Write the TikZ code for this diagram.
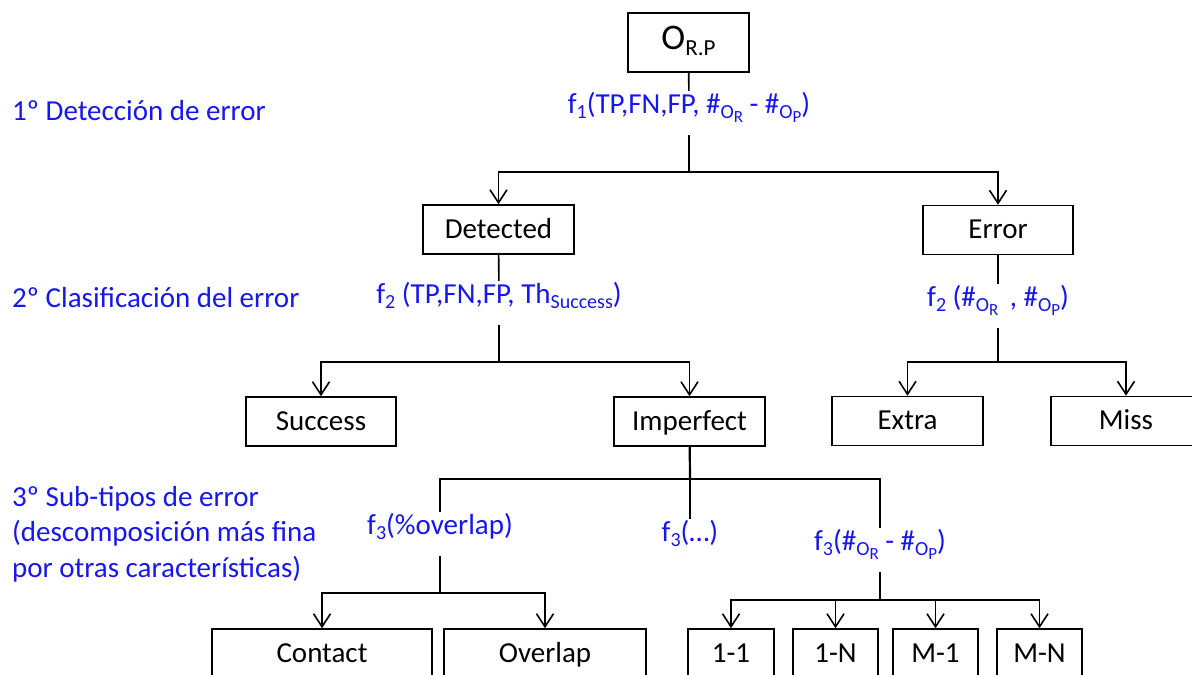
\documentclass[tikz,border=0pt]{standalone}
\usepackage{fontspec}
\setmainfont{Carlito}
\usepackage{tikz}
\usetikzlibrary{arrows.meta,positioning}
\usepackage{xcolor}
\definecolor{stageblue}{RGB}{22,22,238}
\newcommand{\bigtxt}{\fontsize{29}{35.5}\selectfont}
\newcommand{\hugetxt}{\fontsize{36}{40}\selectfont}
\newcommand{\lowtxt}[1]{\raisebox{-5pt}{\fontsize{20}{20}\selectfont #1}}
\newcommand{\lowertxt}[1]{\raisebox{-4pt}{\fontsize{17}{17}\selectfont #1}}

\tikzset{
  box/.style={draw, line width=1.6pt, inner sep=0pt, minimum width=150pt, minimum height=49pt,
    text height=19pt, text depth=2pt, font=\bigtxt},
  flabel/.style={text=stageblue, inner sep=0pt, text height=22pt, text depth=22pt, anchor=base, font=\bigtxt},
  stage/.style={text=stageblue, anchor=base west, align=left, inner sep=0pt, font=\bigtxt},
  link/.style={line width=1.6pt},
  stem/.style={line width=2.2pt},
  arr/.style={line width=1.6pt, -{Straight Barb[length=13pt,width=17pt,line width=1.6pt]}}
}

\begin{document}
\begin{tikzpicture}[x=1pt, y=-1pt]
  \useasboundingbox (0,0) rectangle (1192,675);
  \clip (0,0) rectangle (1192,675);

  % stages on the left
  \node[stage] (s1) at (12,120) {1º Detección de error};
  \node[stage] (s2) at (12,307) {2º Clasificación del error};
  \node[stage] (s3) at (12,577) {3º Sub-tipos de error\\(descomposición más fina\\por otras características)};

  % level 0
  \node[box, minimum width=121pt, minimum height=59pt, text height=24pt, text depth=11pt, font=\hugetxt] (orp) at (688.5,42.5) {O\raisebox{-6pt}{\fontsize{23}{23}\selectfont R.P}};
  \node[flabel] (f1) at (689,113) {f\lowtxt{1}(TP,FN,FP, \#\lowtxt{O\lowertxt{R}} - \#\lowtxt{O\lowertxt{P}})};
  \coordinate (j1) at (689,172);

  % level 1
  \node[box, minimum width=151pt] (det) at (498.5,229.5) {Detected};
  \node[box] (err) at (998,230) {Error};
  \node[flabel] (f2a) at (499,303) {f\lowtxt{2} (TP,FN,FP, Th\lowtxt{Success})};
  \node[flabel] (f2b) at (998,306) {f\lowtxt{2} (\#\lowtxt{O\lowertxt{R}}\, , \#\lowtxt{O\lowertxt{P}})};
  \coordinate (j2) at (499,362);
  \coordinate (j3) at (998,362);

  % level 2
  \node[box] (succ) at (321,421.5) {Success};
  \node[box, minimum width=151pt] (imp) at (689.5,421.5) {Imperfect};
  \node[box, minimum width=151pt] (extra) at (907.5,421) {Extra};
  \node[box] (miss) at (1126,421) {Miss};
  \coordinate (j4) at (690,479);

  % level 3
  \node[flabel] (f3a) at (440,534) {f\lowtxt{3}(\%overlap)};
  \node[flabel] (f3b) at (690,541) {f\lowtxt{3}(…)};
  \node[flabel] (f3c) at (880,550) {f\lowtxt{3}(\#\lowtxt{O\lowertxt{R}} - \#\lowtxt{O\lowertxt{P}})};
  \coordinate (j5) at (440,593);
  \coordinate (j6) at (880,600);

  % leaves
  \node[box, minimum width=220pt] (contact) at (322,653.5) {Contact};
  \node[box, minimum width=202pt] (overlap) at (545,653.5) {Overlap};
  \node[box, minimum width=86pt] (oneone) at (731,653.5) {1-1};
  \node[box, minimum width=85pt] (onen) at (835.5,653.5) {1-N};
  \node[box, minimum width=85pt] (mone) at (935.5,653.5) {M-1};
  \node[box, minimum width=85pt] (mn) at (1039.5,653.5) {M-N};

  % connectors
  \draw[link] (orp) -- (f1);
  \draw[stem] (f1) -- (j1);
  \draw[arr] (j1) -| (det);
  \draw[arr] (j1) -| (err);

  \draw[link] (det) -- (f2a);
  \draw[stem] (f2a) -- (j2);
  \draw[arr] (j2) -| (succ);
  \draw[arr] (j2) -| (imp);

  \draw[link] (err) -- (f2b);
  \draw[stem] (f2b) -- (j3);
  \draw[arr] (j3) -| (extra);
  \draw[arr] (j3) -| (miss);

  \draw[stem] (imp) -- (j4);
  \draw[link] (j4) -| (f3a);
  \draw[link] (j4) -- (f3b);
  \draw[link] (j4) -| (f3c);

  \draw[stem] (f3a) -- (j5);
  \draw[arr] (j5) -| (contact);
  \draw[arr] (j5) -| (overlap);

  \draw[link] (f3c) -- (j6);
  \draw[arr] (j6) -| (oneone);
  \draw[arr] (j6) -| (onen);
  \draw[arr] (j6) -| (mone);
  \draw[arr] (j6) -| (mn);
\end{tikzpicture}
\end{document}
